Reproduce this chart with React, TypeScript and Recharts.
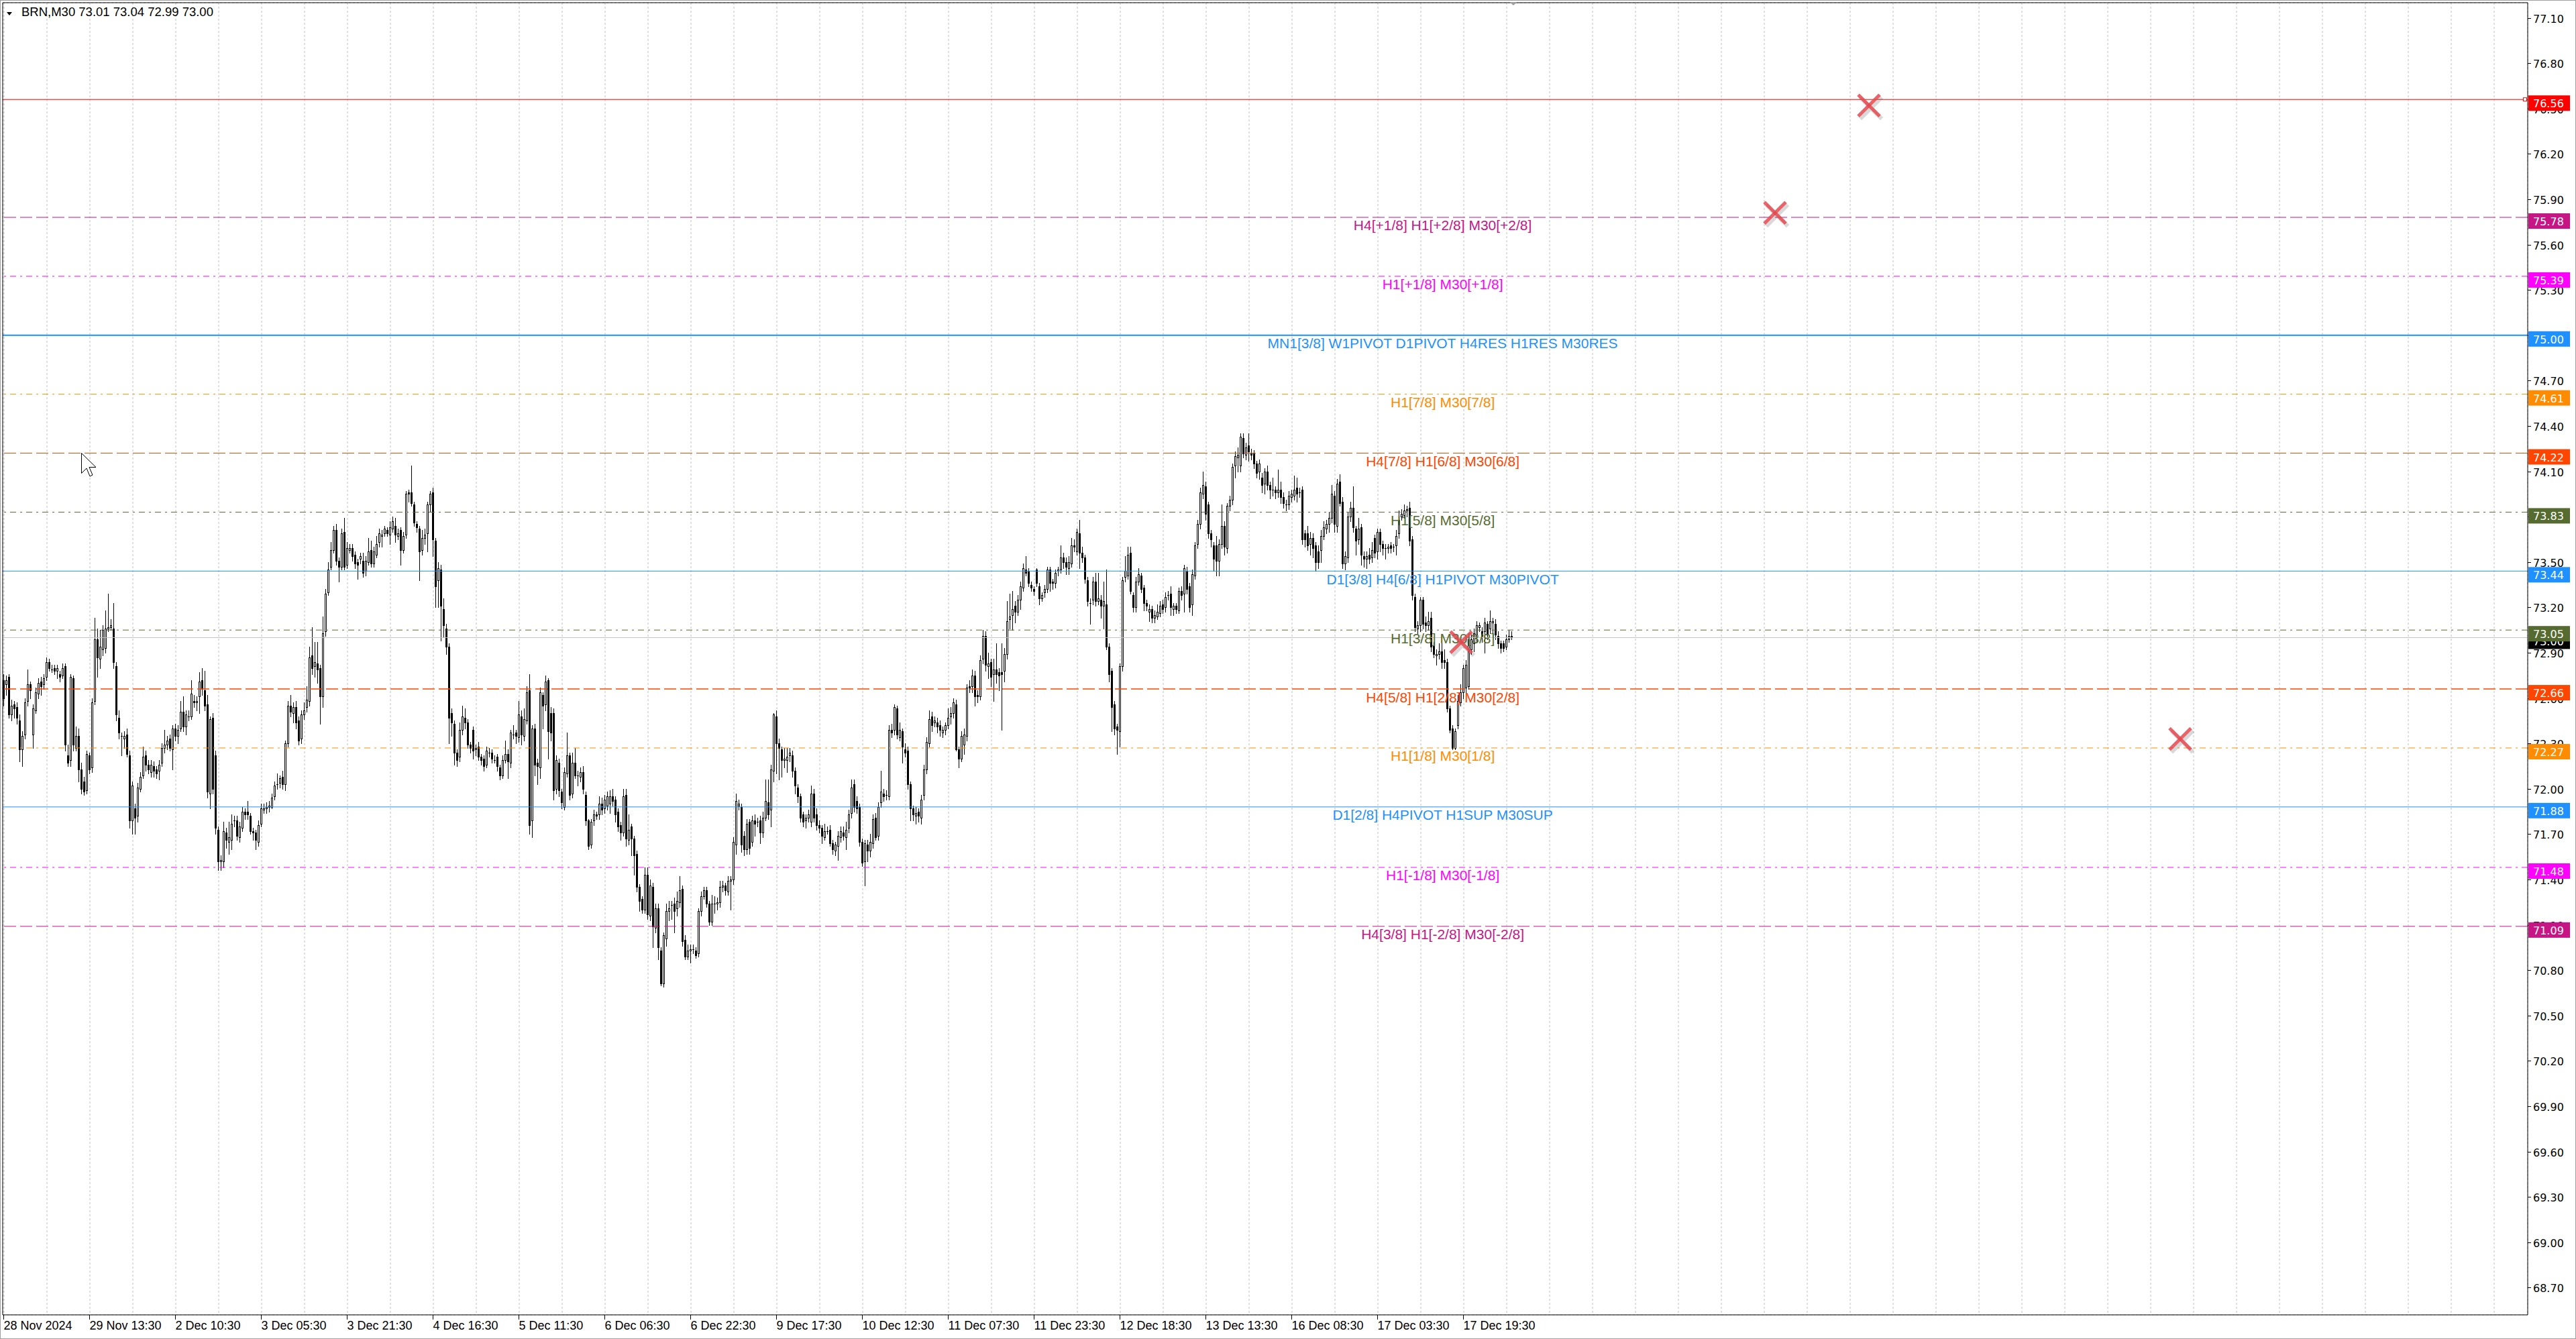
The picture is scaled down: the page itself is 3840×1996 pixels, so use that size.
import React from 'react';
import { ComposedChart, Bar, XAxis, YAxis, CartesianGrid, ReferenceLine, ReferenceDot } from 'recharts';

// ---------- DATA ----------
// candles: [open, high, low, close], BRN M30
const SEG_A: number[][] = [
[72.72,72.76,72.55,72.60],[72.69,72.75,72.62,72.72],[72.74,72.76,72.47,72.49],[72.49,72.59,72.45,72.55],[72.56,72.58,72.47,72.53],
[72.54,72.57,72.43,72.47],[72.45,72.49,72.18,72.26],[72.26,72.38,72.15,72.35],[72.36,72.60,72.33,72.57],[72.58,72.79,72.55,72.69],
[72.69,72.71,72.60,72.65],[72.36,72.56,72.27,72.53],[72.52,72.67,72.50,72.64],[72.63,72.73,72.60,72.70],[72.71,72.74,72.62,72.68],
[72.69,72.76,72.66,72.73],[72.74,72.87,72.72,72.84],[72.84,72.86,72.78,72.80],[72.79,72.82,72.77,72.79],[72.80,72.82,72.76,72.78],
[72.78,72.82,72.73,72.80],[72.76,72.78,72.71,72.74],[72.75,72.83,72.73,72.80],[72.81,72.83,72.25,72.29],[72.22,72.29,72.15,72.17],
[72.19,72.76,72.15,72.74],[72.73,72.75,72.25,72.29],[72.27,72.41,72.25,72.35],[72.35,72.40,72.05,72.13],[72.13,72.17,71.97,72.00],
[72.05,72.08,71.96,71.98],[71.99,72.25,71.97,72.23],[72.22,72.24,72.10,72.13],[72.14,72.60,72.11,72.57],[72.58,73.13,72.56,72.99],
[72.99,73.06,72.74,72.87],[72.86,73.05,72.80,72.94],[72.92,73.08,72.88,73.05],[72.93,73.18,72.90,73.06],[73.06,73.29,73.04,73.07],
[73.07,73.12,73.05,73.08],[73.06,73.23,72.80,72.84],[72.81,72.84,72.45,72.49],[72.47,72.52,72.33,72.37],[72.35,72.37,72.22,72.35],
[72.33,72.38,72.27,72.35],[72.36,72.40,72.21,72.23],[72.22,72.25,71.74,71.79],[71.79,72.05,71.70,72.02],[71.87,71.90,71.70,71.81],
[71.82,72.04,71.78,72.01],[72.00,72.11,71.98,72.08],[72.09,72.28,72.07,72.21],[72.22,72.25,72.12,72.16],[72.16,72.19,72.10,72.13],
[72.11,72.19,72.08,72.16],[72.15,72.18,72.08,72.12],[72.13,72.15,72.07,72.10],[72.12,72.19,72.06,72.16],[72.17,72.30,72.15,72.27],
[72.27,72.39,72.24,72.29],[72.29,72.35,72.26,72.32],[72.33,72.36,72.25,72.27],[72.26,72.42,72.13,72.40],[72.40,72.43,72.32,72.35],
[72.35,72.42,72.30,72.39],[72.40,72.58,72.38,72.51],[72.51,72.61,72.38,72.41],[72.41,72.52,72.36,72.49],[72.48,72.52,72.45,72.48],
[72.48,72.72,72.46,72.63],[72.58,72.62,72.54,72.57],[72.57,72.61,72.52,72.58],[72.61,72.77,72.50,72.71],[72.72,72.80,72.62,72.66],
[72.65,72.78,72.52,72.55],[72.56,72.62,71.94,71.98],[71.97,72.48,71.87,72.46],[72.47,72.50,71.97,72.00],[72.22,72.25,71.70,71.74],
[71.73,71.75,71.46,71.52],[71.52,71.56,71.46,71.53],[71.52,71.78,71.48,71.72],[71.71,71.74,71.61,71.66],[71.65,71.78,71.57,71.68],
[71.66,71.83,71.60,71.77],[71.79,71.82,71.75,71.79],[71.79,71.82,71.66,71.69],[71.68,71.78,71.65,71.75],[71.74,71.88,71.72,71.85],
[71.85,71.87,71.80,71.83],[71.85,71.92,71.80,71.83],[71.82,71.84,71.70,71.72],[71.72,71.74,71.66,71.71],[71.71,71.73,71.60,71.66],
[71.65,71.79,71.62,71.76],[71.77,71.90,71.75,71.87],[71.86,71.90,71.84,71.87],[71.87,71.91,71.84,71.88],[71.88,71.92,71.85,71.89],
[71.88,71.97,71.87,71.94],[71.95,72.05,71.93,72.02],[72.03,72.10,72.00,72.03],[72.04,72.09,72.01,72.07],[72.08,72.12,72.00,72.03],
[72.03,72.32,71.99,72.30],[72.30,72.58,72.28,72.55],[72.55,72.62,72.48,72.51],[72.50,72.57,72.44,72.54],[72.54,72.58,72.40,72.44],
[72.45,72.48,72.29,72.32],[72.33,72.52,72.30,72.49],[72.49,72.57,72.46,72.52],[72.54,72.68,72.51,72.59],
];
const SEG_B: number[][] = [
[72.58,72.94,72.55,72.87],[72.88,73.07,72.76,72.80],[72.81,72.97,72.74,72.84],[72.83,72.97,72.70,72.79],[72.80,72.82,72.43,72.61],
[72.61,73.14,72.54,73.03],[73.04,73.32,73.01,73.29],[73.30,73.50,73.28,73.45],[73.47,73.63,73.45,73.58],[73.58,73.74,73.56,73.71],
[73.71,73.75,73.48,73.51],[73.51,73.53,73.37,73.47],[73.47,73.72,73.45,73.69],[73.70,73.79,73.45,73.47],[73.48,73.63,73.46,73.59],
[73.58,73.62,73.56,73.59],[73.59,73.62,73.51,73.54],[73.55,73.57,73.46,73.49],[73.50,73.52,73.39,73.48],[73.52,73.56,73.49,73.54],
[73.51,73.56,73.40,73.43],[73.44,73.54,73.41,73.51],[73.50,73.66,73.48,73.57],[73.58,73.64,73.47,73.49],[73.49,73.60,73.47,73.57],
[73.55,73.67,73.53,73.62],[73.63,73.72,73.60,73.69],[73.67,73.71,73.60,73.68],[73.69,73.74,73.67,73.72],[73.71,73.73,73.67,73.69],
[73.68,73.77,73.62,73.73],[73.72,73.80,73.70,73.77],[73.74,73.79,73.63,73.68],[73.67,73.72,73.65,73.69],[73.71,73.73,73.48,73.58],
[73.58,73.70,73.56,73.67],[73.68,73.97,73.66,73.95],[73.96,73.98,73.90,73.95],[73.96,74.14,73.87,73.89],[73.88,73.90,73.74,73.76],
[73.75,73.77,73.70,73.73],[73.72,73.74,73.38,73.57],[73.58,73.71,73.55,73.66],[73.66,73.72,73.62,73.68],[73.69,73.90,73.57,73.88],
[73.88,73.97,73.83,73.95],[73.96,73.99,73.54,73.65],[73.64,73.66,73.20,73.34],[73.38,73.50,73.20,73.46],[73.45,73.48,72.98,73.21],
[73.19,73.26,73.00,73.08],[73.06,73.09,72.89,72.94],[72.94,72.96,72.30,72.47],[72.50,72.53,72.35,72.44],[72.43,72.45,72.16,72.24],
[72.24,72.26,72.15,72.19],[72.21,72.44,72.18,72.39],[72.39,72.55,72.36,72.48],[72.47,72.53,72.40,72.44],[72.44,72.46,72.27,72.29],
[72.29,72.31,72.24,72.27],[72.39,72.41,72.20,72.25],[72.26,72.29,72.22,72.27],[72.28,72.31,72.19,72.21],[72.21,72.23,72.16,72.19],
[72.20,72.22,72.12,72.15],[72.16,72.28,72.14,72.25],[72.24,72.27,72.21,72.24],[72.24,72.26,72.17,72.20],[72.19,72.22,72.17,72.19],
[72.21,72.23,72.12,72.15],[72.14,72.16,72.06,72.09],[72.09,72.22,72.07,72.19],[72.19,72.32,72.17,72.23],[72.23,72.26,72.07,72.18],
[72.17,72.39,72.14,72.37],[72.36,72.42,72.33,72.36],[72.37,72.39,72.30,72.35],[72.34,72.58,72.31,72.49],[72.48,72.52,72.29,72.36],
[72.35,72.53,72.32,72.46],[72.45,72.68,72.43,72.64],[72.65,72.76,71.70,71.76],[71.79,72.42,71.68,72.40],[72.40,72.43,72.09,72.16],
[72.17,72.20,72.03,72.15],[72.14,72.67,72.07,72.64],[72.62,72.64,72.40,72.55],[72.56,72.75,72.52,72.71],[72.72,72.73,72.20,72.38],
[72.50,72.54,72.32,72.37],[72.50,72.53,71.93,71.99],[72.00,72.22,71.97,72.19],[72.17,72.20,71.95,71.99],[71.98,72.00,71.87,71.91],
[71.88,72.14,71.86,72.11],[72.10,72.37,72.08,72.22],[72.22,72.24,71.93,71.96],[71.97,72.24,71.94,72.17],[72.17,72.27,72.07,72.09],
[72.09,72.12,72.02,72.09],[72.08,72.14,72.05,72.11],[72.11,72.15,71.97,72.00],[71.96,71.98,71.76,71.79],[71.79,71.80,71.60,71.62],
[71.63,71.80,71.61,71.78],[71.79,71.86,71.76,71.83],[71.83,71.85,71.80,71.82],[71.83,71.95,71.80,71.90],[71.90,71.94,71.83,71.86],
];
const SEG_C: number[][] = [
[71.87,71.96,71.84,71.93],[71.89,71.98,71.86,71.95],[71.90,71.99,71.84,71.95],[71.95,72.00,71.89,71.92],[71.93,71.95,71.78,71.83],
[71.85,71.87,71.72,71.75],[71.76,71.78,71.66,71.71],[71.71,72.00,71.69,71.95],[71.96,72.00,71.62,71.67],[71.66,71.83,71.63,71.73],
[71.75,71.77,71.56,71.67],[71.67,71.69,71.43,71.56],[71.57,71.59,71.32,71.35],[71.35,71.37,71.19,71.26],[71.27,71.29,71.18,71.20],
[71.20,71.48,71.18,71.43],[71.43,71.48,71.14,71.17],[71.16,71.40,71.13,71.36],[71.35,71.38,70.95,71.09],[71.08,71.24,71.05,71.21],
[71.21,71.24,70.87,70.95],[70.93,70.95,70.70,70.71],[70.71,71.05,70.69,71.03],[71.01,71.24,70.96,71.19],[71.19,71.26,71.13,71.21],
[71.23,71.26,71.14,71.23],[71.24,71.28,71.05,71.19],[71.21,71.32,71.16,71.26],[71.25,71.42,71.22,71.33],[71.34,71.36,70.96,70.99],
[71.00,71.03,70.87,70.89],[70.89,70.97,70.87,70.93],[70.93,70.97,70.85,70.94],[70.94,70.97,70.91,70.94],[70.93,70.95,70.88,70.90],
[70.91,71.21,70.89,71.19],[71.19,71.32,71.16,71.29],[71.29,71.35,71.27,71.33],[71.33,71.35,71.22,71.24],[71.24,71.26,71.10,71.12],
[71.12,71.30,71.10,71.24],[71.24,71.29,71.18,71.24],[71.24,71.28,71.20,71.25],[71.25,71.39,71.22,71.35],[71.35,71.39,71.32,71.36],
[71.36,71.38,71.30,71.33],[71.32,71.42,71.30,71.39],[71.39,71.42,71.20,71.40],[71.40,71.68,71.37,71.65],[71.63,71.97,71.57,71.92],
[71.89,71.93,71.86,71.90],[71.88,71.90,71.58,71.63],[71.69,71.72,71.56,71.60],[71.60,71.80,71.57,71.77],[71.78,71.80,71.57,71.61],
[71.65,71.82,71.62,71.79],[71.79,71.83,71.69,71.77],[71.78,71.81,71.75,71.78],[71.79,71.82,71.64,71.71],[71.71,71.85,71.68,71.81],
[71.81,72.06,71.79,71.92],[71.91,72.06,71.80,71.83],[71.86,72.16,71.75,72.13],[72.12,72.50,72.05,72.49],[72.48,72.52,72.10,72.30],
[72.30,72.33,72.06,72.27],[72.26,72.28,72.08,72.19],[72.19,72.27,72.14,72.20],[72.19,72.27,72.11,72.21],[72.22,72.27,72.18,72.24],
[72.22,72.25,72.08,72.12],[72.12,72.14,71.97,72.02],[72.01,72.03,71.91,71.95],[71.95,71.97,71.78,71.81],[71.83,71.85,71.75,71.78],
[71.79,71.83,71.74,71.81],[71.81,71.86,71.78,71.83],[71.78,72.02,71.75,71.97],[71.97,72.00,71.78,71.81],[71.83,71.87,71.73,71.76],
[71.76,71.79,71.71,71.74],[71.74,71.76,71.64,71.69],[71.68,71.77,71.66,71.72],[71.72,71.75,71.70,71.72],[71.73,71.76,71.62,71.64],
[71.64,71.66,71.57,71.60],[71.59,71.65,71.56,71.63],[71.62,71.72,71.53,71.69],[71.68,71.75,71.65,71.72],[71.71,71.75,71.66,71.69],
[71.68,71.78,71.60,71.73],[71.74,71.86,71.71,71.83],[71.84,72.06,71.81,72.01],[72.03,72.06,71.85,71.88],[71.92,71.95,71.84,71.87],
[71.88,71.90,71.62,71.65],[71.65,71.67,71.49,71.51],[71.52,71.66,71.36,71.64],[71.63,71.66,71.52,71.59],[71.59,71.70,71.55,71.65],
[71.64,71.83,71.61,71.80],[71.81,71.84,71.66,71.68],[71.69,71.91,71.66,71.88],[71.91,72.12,71.88,71.98],[71.97,72.00,71.92,71.95],
[71.96,71.99,71.93,71.96],[71.95,72.42,71.93,72.39],[72.39,72.43,72.34,72.37],[72.39,72.56,72.36,72.54],[72.53,72.55,72.33,72.36],
[72.34,72.44,72.32,72.39],[72.38,72.40,72.17,72.28],[72.26,72.30,72.21,72.24],[72.25,72.28,72.00,72.03],[72.03,72.05,71.79,71.87],
];
const SEG_D: number[][] = [
[71.87,71.89,71.79,71.83],[71.82,71.88,71.77,71.84],[71.85,71.87,71.78,71.82],[71.81,71.96,71.77,71.93],[71.96,72.16,71.93,72.13],
[72.13,72.34,72.10,72.31],[72.30,72.52,72.28,72.46],[72.48,72.51,72.38,72.42],[72.44,72.48,72.41,72.45],[72.44,72.47,72.37,72.41],
[72.42,72.45,72.35,72.39],[72.37,72.41,72.34,72.39],[72.39,72.44,72.36,72.42],[72.42,72.53,72.40,72.47],[72.48,72.54,72.43,72.50],
[72.50,72.60,72.47,72.57],[72.56,72.59,72.25,72.26],[72.26,72.28,72.14,72.20],[72.20,72.38,72.18,72.35],[72.29,72.40,72.23,72.36],
[72.35,72.69,72.32,72.67],[72.68,72.72,72.64,72.67],[72.68,72.79,72.64,72.75],[72.75,72.78,72.55,72.61],[72.62,72.65,72.57,72.61],
[72.61,72.88,72.59,72.85],[72.86,73.05,72.83,73.01],[73.01,73.04,72.78,72.82],[72.81,72.90,72.73,72.83],[72.84,72.86,72.68,72.74],
[72.76,72.86,72.58,72.79],[72.79,72.96,72.70,72.76],[72.77,72.80,72.65,72.75],[72.77,72.96,72.39,72.76],[72.78,72.93,72.71,72.89],
[72.89,73.24,72.86,73.11],[73.12,73.29,73.06,73.14],[73.15,73.31,73.05,73.19],[73.21,73.24,73.10,73.17],[73.17,73.28,73.15,73.25],
[73.25,73.37,73.19,73.34],[73.33,73.49,73.31,73.46],[73.45,73.54,73.41,73.43],[73.44,73.46,73.34,73.36],[73.35,73.37,73.31,73.33],
[73.32,73.34,73.28,73.31],[73.45,73.46,73.34,73.36],[73.34,73.36,73.22,73.26],[73.26,73.30,73.24,73.28],[73.30,73.35,73.27,73.32],
[73.32,73.47,73.30,73.45],[73.45,73.47,73.31,73.36],[73.37,73.39,73.32,73.36],[73.36,73.45,73.33,73.43],[73.44,73.47,73.41,73.45],
[73.45,73.61,73.43,73.53],[73.53,73.56,73.46,73.50],[73.50,73.53,73.42,73.47],[73.46,73.54,73.42,73.50],[73.49,73.66,73.47,73.61],
[73.61,73.65,73.57,73.60],[73.57,73.72,73.55,73.70],[73.69,73.78,73.46,73.56],[73.56,73.60,73.50,73.53],[73.53,73.55,73.36,73.39],
[73.38,73.40,73.21,73.24],[73.23,73.26,73.09,73.23],[73.25,73.40,73.22,73.37],[73.37,73.43,73.21,73.24],[73.24,73.43,73.22,73.26],
[73.25,73.28,73.13,73.21],[73.21,73.37,73.06,73.24],[73.22,73.45,72.92,72.94],[72.94,72.96,72.71,72.76],[72.78,72.80,72.38,72.54],
[72.56,72.58,72.36,72.40],[72.41,72.43,72.23,72.39],[72.38,72.83,72.28,72.81],[72.81,73.40,72.78,73.38],[73.40,73.54,73.37,73.44],
[73.41,73.60,73.39,73.55],[73.56,73.60,73.29,73.31],[73.28,73.30,73.17,73.20],[73.20,73.40,73.17,73.37],[73.37,73.46,73.35,73.42],
[73.41,73.43,73.30,73.32],[73.33,73.35,73.18,73.23],[73.23,73.25,73.18,73.21],[73.17,73.22,73.11,73.19],[73.19,73.21,73.10,73.13],
[73.13,73.18,73.10,73.15],[73.14,73.22,73.12,73.17],[73.16,73.24,73.14,73.21],[73.22,73.25,73.16,73.19],[73.20,73.30,73.17,73.27],
[73.28,73.31,73.25,73.28],[73.29,73.34,73.15,73.20],[73.19,73.23,73.15,73.21],[73.21,73.23,73.16,73.19],[73.18,73.33,73.16,73.31],
[73.31,73.34,73.25,73.28],[73.29,73.48,73.17,73.46],[73.44,73.47,73.29,73.32],[73.34,73.36,73.17,73.20],[73.22,73.45,73.15,73.42],
[73.41,73.63,73.39,73.61],[73.62,73.78,73.59,73.75],[73.75,73.99,73.72,73.96],[73.95,74.10,73.92,74.01],[74.00,74.03,73.78,73.82],
];
const SEG_E: number[][] = [
[73.88,73.90,73.66,73.69],[73.69,73.71,73.60,73.65],[73.61,73.63,73.44,73.52],[73.61,73.67,73.41,73.51],[73.51,73.65,73.41,73.62],
[73.62,73.88,73.59,73.74],[73.74,73.77,73.55,73.60],[73.59,73.89,73.56,73.87],[73.87,73.94,73.84,73.91],[73.91,74.15,73.88,74.13],
[74.14,74.23,74.06,74.20],[74.19,74.26,74.10,74.21],[74.14,74.35,74.10,74.33],[74.32,74.35,74.19,74.22],[74.21,74.29,74.18,74.26],
[74.27,74.35,74.17,74.23],[74.22,74.25,74.18,74.21],[74.22,74.24,74.12,74.15],[74.15,74.17,74.06,74.09],[74.10,74.18,74.05,74.15],
[74.06,74.09,73.96,74.01],[74.02,74.12,73.95,74.10],[74.10,74.14,73.98,74.01],[74.01,74.03,73.92,73.98],[73.98,74.06,73.94,73.98],
[73.98,74.00,73.92,73.96],[73.96,74.11,73.93,73.98],[73.98,74.03,73.89,73.93],[73.93,73.96,73.86,73.89],[73.88,73.91,73.84,73.88],
[73.88,73.97,73.85,73.94],[73.93,73.98,73.90,73.95],[73.94,74.07,73.91,73.98],[73.99,74.06,73.90,73.95],[73.96,73.99,73.93,73.96],
[73.98,74.00,73.62,73.65],[73.69,73.71,73.60,73.65],[73.69,73.74,73.58,73.61],[73.62,73.70,73.55,73.66],[73.66,73.69,73.53,73.59],
[73.61,73.63,73.44,73.50],[73.57,73.61,73.46,73.50],[73.58,73.71,73.50,73.67],[73.67,73.77,73.65,73.73],[73.72,73.78,73.69,73.75],
[73.75,73.83,73.70,73.79],[73.79,74.01,73.76,73.95],[73.94,73.97,73.70,73.75],[73.74,74.05,73.70,74.02],[74.03,74.08,73.87,73.89],
[73.90,73.93,73.46,73.49],[73.49,73.57,73.45,73.54],[73.53,73.83,73.50,73.80],[73.80,73.90,73.77,73.86],[73.86,74.00,73.70,73.73],
[73.72,73.74,73.55,73.64],[73.65,73.79,73.62,73.72],[73.73,73.75,73.48,73.55],[73.54,73.57,73.47,73.52],[73.52,73.57,73.46,73.54],
[73.55,73.59,73.49,73.52],[73.53,73.63,73.50,73.58],[73.66,73.68,73.53,73.56],[73.57,73.72,73.52,73.70],[73.70,73.72,73.57,73.62],
[73.62,73.64,73.55,73.59],[73.59,73.62,73.52,73.59],[73.59,73.62,73.56,73.60],[73.61,73.63,73.56,73.59],[73.60,73.62,73.57,73.60],
[73.61,73.71,73.55,73.67],[73.69,73.84,73.66,73.78],[73.80,73.85,73.78,73.82],[73.81,73.88,73.79,73.84],[73.84,73.87,73.80,73.85],
[73.86,73.90,73.61,73.64],[73.65,73.67,73.25,73.28],[73.27,73.29,73.04,73.07],[73.06,73.11,73.03,73.08],[73.08,73.27,73.04,73.25],
[73.25,73.27,73.06,73.09],[73.10,73.14,73.04,73.08],[73.08,73.17,73.05,73.11],[73.13,73.17,72.91,72.94],[72.95,72.97,72.87,72.89],
[72.88,72.92,72.82,72.89],[72.89,72.96,72.86,72.91],[72.91,73.01,72.80,72.84],[72.85,72.92,72.80,72.84],[72.84,72.86,72.51,72.53],
[72.53,72.55,72.37,72.39],[72.40,72.42,72.26,72.27],[72.27,72.40,72.26,72.38],[72.42,72.62,72.40,72.58],[72.57,72.69,72.55,72.64],
[72.64,72.82,72.60,72.80],[72.67,72.85,72.64,72.82],[72.68,73.01,72.66,72.99],[72.92,73.02,72.89,72.99],[72.96,73.06,72.91,73.03],
[73.00,73.11,72.97,73.08],[73.07,73.10,73.04,73.08],[73.04,73.07,72.97,73.01],[73.04,73.13,72.90,73.10],[73.09,73.11,72.99,73.02],
[73.06,73.18,73.03,73.11],[73.10,73.13,73.00,73.11],[73.09,73.12,72.99,73.02],[73.01,73.04,72.93,72.96],[72.96,72.98,72.90,72.93],
[72.96,72.98,72.91,72.93],[72.94,73.02,72.92,72.99],[72.99,73.05,72.97,73.01],[73.01,73.04,72.99,73.00],
];

const TIME_LABELS = ['28 Nov 2024', '29 Nov 13:30', '2 Dec 10:30', '3 Dec 05:30', '3 Dec 21:30', '4 Dec 16:30',
  '5 Dec 11:30', '6 Dec 06:30', '6 Dec 22:30', '9 Dec 17:30', '10 Dec 12:30', '11 Dec 07:30', '11 Dec 23:30',
  '12 Dec 18:30', '13 Dec 13:30', '16 Dec 08:30', '17 Dec 03:30', '17 Dec 19:30'];

const PRICE_TICKS = [77.1, 76.8, 76.5, 76.2, 75.9, 75.6, 75.3, 75.0, 74.7, 74.4, 74.1, 73.8, 73.5, 73.2, 72.9,
  72.6, 72.3, 72.0, 71.7, 71.4, 71.1, 70.8, 70.5, 70.2, 69.9, 69.6, 69.3, 69.0, 68.7];

const LEVEL_PRICES = [76.56, 75.78, 75.39, 75.00, 74.61, 74.22, 73.83, 73.44, 73.05, 72.66, 72.27, 71.88, 71.48, 71.09];
const LEVEL_TEXTS = ['', 'H4[+1/8] H1[+2/8] M30[+2/8]', 'H1[+1/8] M30[+1/8]', 'MN1[3/8] W1PIVOT D1PIVOT H4RES H1RES M30RES',
  'H1[7/8] M30[7/8]', 'H4[7/8] H1[6/8] M30[6/8]', 'H1[5/8] M30[5/8]', 'D1[3/8] H4[6/8] H1PIVOT M30PIVOT',
  'H1[3/8] M30[3/8]', 'H4[5/8] H1[2/8] M30[2/8]', 'H1[1/8] M30[1/8]', 'D1[2/8] H4PIVOT H1SUP M30SUP',
  'H1[-1/8] M30[-1/8]', 'H4[3/8] H1[-2/8] M30[-2/8]'];
const LEVEL_COLORS = ['#FF0000', '#C71585', '#FF00FF', '#1E90FF', '#FF8C00', '#FF4500', '#556B2F', '#1E90FF',
  '#556B2F', '#FF4500', '#FF8C00', '#1E90FF', '#FF00FF', '#C71585'];
const LEVEL_STYLES = ['solid', 'dash', 'dashdot', 'solid', 'dashdot', 'dash', 'dashdot', 'solid', 'dashdot', 'dash',
  'dashdot', 'solid', 'dashdot', 'dash'];
const LEVEL_WIDTHS = [1, 1, 1, 2, 1, 1, 1, 1, 1, 1.5, 1, 1, 1, 1];

const BID_PRICE = 73.00;
const MARKER_BARS = [695, 660, 811, 543];
const MARKER_PRICES = [76.52, 75.81, 72.33, 72.97];

// ---------- LAYOUT ----------
const W = 3840, H = 1996;
const TOTAL_SLOTS = 941;
const GRID_EVERY = 16, LABEL_EVERY = 32;
const Y_DOMAIN: [number, number] = [68.52, 77.2];
const LABEL_FRAC = 0.5703;
const DASHES: Record<string, string | undefined> = { solid: undefined, dash: '18 6', dashdot: '9 6 3 6' };
const AXIS_FONT = "'DejaVu Sans', Verdana, sans-serif";
const TEXT_FONT = "'Liberation Sans', Arial, sans-serif";

const CANDLES = [...SEG_A, ...SEG_B, ...SEG_C, ...SEG_D, ...SEG_E];
const ROWS = Array.from({ length: TOTAL_SLOTS }, (_, i) => {
  const c = CANDLES[i];
  return c ? { i, o: c[0], h: c[1], l: c[2], c: c[3] } : { i };
});
const X_TICKS = Array.from({ length: Math.floor((TOTAL_SLOTS - 1) / GRID_EVERY) + 1 }, (_, k) => k * GRID_EVERY);

const CandleShape = (props: any) => {
  const { x, y, width, height, payload } = props;
  if (!payload || payload.o == null || !isFinite(y) || !isFinite(height)) return null;
  const top = Math.min(y, y + height), bot = Math.max(y, y + height);
  const { o, h, l, c } = payload;
  const span = h - l;
  const py = (p: number) => (span > 0 ? top + ((h - p) / span) * (bot - top) : top);
  const cx = Math.round(x + width / 2) - 0.5;
  const yo = py(o), yc = py(c);
  const bt = Math.round(Math.min(yo, yc)) + 0.5;
  const bb = Math.round(Math.max(yo, yc)) + 0.5;
  return (
    <g shapeRendering="crispEdges">
      <line x1={cx} x2={cx} y1={Math.round(top)} y2={Math.round(bot) + 1} stroke="#000" strokeWidth={1} />
      {bb - bt < 1 ? (
        <line x1={cx - 1.5} x2={cx + 1.5} y1={bt} y2={bt} stroke="#000" strokeWidth={1} />
      ) : (
        <rect x={cx - 1} y={bt} width={2} height={bb - bt} fill={c >= o ? '#FFFFFF' : '#000000'} stroke="#000" strokeWidth={1} />
      )}
    </g>
  );
};

const TimeTick = (props: any) => {
  const { x, y, payload } = props;
  const v = Number(payload.value);
  if (v % LABEL_EVERY !== 0) return null;
  const label = TIME_LABELS[v / LABEL_EVERY];
  if (!label) return null;
  const tx = Math.round(x) - 0.5;
  return (
    <g>
      <line x1={tx} x2={tx} y1={y} y2={y + 7} stroke="#000" strokeWidth={1} />
      <text x={tx} y={y + 22} fontFamily={TEXT_FONT} fontSize={18} fill="#000">{label}</text>
    </g>
  );
};

// price-axis tick label, drawn as a reference-line label so the level boxes can cover it
const TickLabel = (props: any) => {
  const { viewBox, value } = props;
  if (!viewBox) return null;
  const ax = viewBox.x + viewBox.width;
  const ly = Math.round(viewBox.y) + 0.5;
  return (
    <g>
      <line x1={ax} x2={ax + 5} y1={ly} y2={ly} stroke="#000" strokeWidth={1} />
      <text x={ax + 8} y={viewBox.y + 7} fontFamily={AXIS_FONT} fontSize={16} fill="#000">{Number(value).toFixed(2)}</text>
    </g>
  );
};

const PriceBox = ({ vb, color, price }: any) => (
  <g>
    <rect x={vb.x + vb.width + 1} y={vb.y - 6} width={62} height={23} fill={color} />
    <text x={vb.x + vb.width + 8} y={vb.y + 12} fontFamily={AXIS_FONT} fontSize={16} fill="#FFFFFF">{price.toFixed(2)}</text>
  </g>
);

const LevelLabel = (props: any) => {
  const { viewBox, k } = props;
  if (!viewBox) return null;
  const vb = viewBox;
  const color = LEVEL_COLORS[k];
  return (
    <g>
      {LEVEL_TEXTS[k] ? (
        <text x={vb.x + vb.width * LABEL_FRAC} y={vb.y + 19.5} textAnchor="middle" fontFamily={TEXT_FONT} fontSize={21} fill={color}>{LEVEL_TEXTS[k]}</text>
      ) : (
        <rect x={vb.x + vb.width - 6.5} y={vb.y - 2.5} width={5} height={5} fill="#fff" stroke={color} strokeWidth={1} />
      )}
      <PriceBox vb={vb} color={color} price={LEVEL_PRICES[k]} />
    </g>
  );
};

const BidLabel = (props: any) => {
  const { viewBox } = props;
  if (!viewBox) return null;
  return <PriceBox vb={viewBox} color="#000000" price={BID_PRICE} />;
};

const CrossShape = (props: any) => {
  const { cx, cy } = props;
  if (!isFinite(cx) || !isFinite(cy)) return null;
  const r = 16;
  return (
    <g>
      <g opacity={0.22}>
        <line x1={cx - r + 3} y1={cy - r + 4} x2={cx + r + 3} y2={cy + r + 4} stroke="#555" strokeWidth={6} />
        <line x1={cx - r + 3} y1={cy + r + 4} x2={cx + r + 3} y2={cy - r + 4} stroke="#555" strokeWidth={6} />
      </g>
      <line x1={cx - r} y1={cy - r} x2={cx + r} y2={cy + r} stroke="#E5484D" strokeOpacity={0.85} strokeWidth={5} />
      <line x1={cx - r} y1={cy + r} x2={cx + r} y2={cy - r} stroke="#E5484D" strokeOpacity={0.85} strokeWidth={5} />
    </g>
  );
};

export default function App() {
  return (
    <div style={{ position: 'absolute', left: 0, top: 0, width: W, height: H, background: '#FFFFFF', overflow: 'hidden' }}>
      <ComposedChart width={W} height={H} data={ROWS} margin={{ top: 0, right: 0, bottom: 0, left: 0 }} barCategoryGap={0} barGap={0}>
        <XAxis xAxisId="main" dataKey="i" type="category" ticks={X_TICKS} interval={0} height={36}
          axisLine={{ stroke: '#000' }} tickLine={false} tickSize={0} tickMargin={0} tick={<TimeTick />} />
        <XAxis xAxisId="top" orientation="top" dataKey="i" type="category" height={4} tick={false}
          axisLine={{ stroke: '#000' }} tickLine={false} />
        <YAxis yAxisId="left" orientation="left" width={4} type="number" domain={Y_DOMAIN} allowDataOverflow
          tick={false} tickLine={false} axisLine={{ stroke: '#000' }} />
        <YAxis yAxisId="price" orientation="right" width={72} type="number" domain={Y_DOMAIN} allowDataOverflow
          ticks={PRICE_TICKS} interval={0} tickLine={false} tickSize={0} tickMargin={0}
          axisLine={{ stroke: '#000' }} tick={false} />
        <CartesianGrid xAxisId="main" yAxisId="price" stroke="#C0C0C0" strokeDasharray="3 3" />
        {PRICE_TICKS.map((t) => (
          <ReferenceLine key={'t' + t} xAxisId="main" yAxisId="price" y={t} stroke="none" label={<TickLabel value={t} />} />
        ))}
        <ReferenceLine xAxisId="main" yAxisId="price" y={BID_PRICE} stroke="#C0C0C0" strokeWidth={1} label={<BidLabel />} />
        {LEVEL_PRICES.map((p, k) => (
          <ReferenceLine key={k} xAxisId="main" yAxisId="price" y={p} stroke={LEVEL_COLORS[k]}
            strokeWidth={LEVEL_WIDTHS[k]} strokeDasharray={DASHES[LEVEL_STYLES[k]]} label={<LevelLabel k={k} />} />
        ))}
        <Bar xAxisId="main" yAxisId="price" dataKey={(d: any) => (d.o == null ? null : [d.l, d.h])}
          shape={<CandleShape />} isAnimationActive={false} />
        {MARKER_BARS.map((b, k) => (
          <ReferenceDot key={k} xAxisId="main" yAxisId="price" x={b} y={MARKER_PRICES[k]} r={16} shape={<CrossShape />} />
        ))}
      </ComposedChart>
      <svg width={W} height={H} style={{ position: 'absolute', left: 0, top: 0, pointerEvents: 'none' }}>
        <rect x={0.5} y={0.5} width={W - 1} height={H - 1} fill="none" stroke="#A0A0A0" strokeWidth={1} />
        <polygon points="10,18 18,18 14,23" fill="#000" />
        <text x={32} y={24} fontFamily={TEXT_FONT} fontSize={18.5} fill="#000">BRN,M30  73.01 73.04 72.99 73.00</text>
        <polygon points="2250,3 2262,3 2256,8" fill="#A0A0A0" />
        <polygon points="121.5,675.5 121.5,705.5 129,698 134,710 138,708 133,696.5 143,696.5" fill="#FFFFFF" stroke="#000" strokeWidth={1} />
      </svg>
    </div>
  );
}
